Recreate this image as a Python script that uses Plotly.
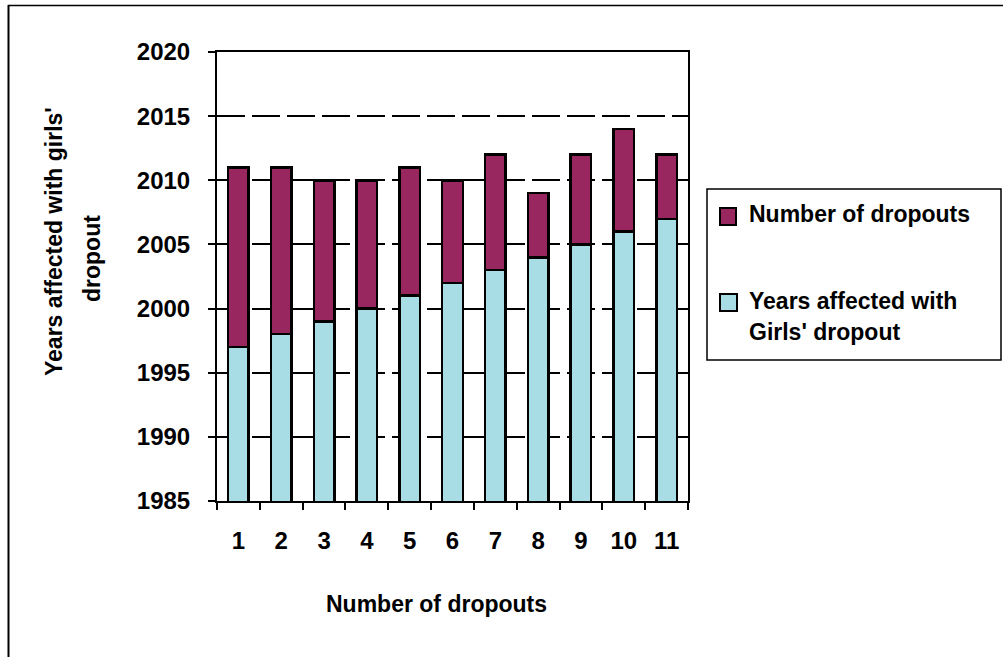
import plotly.graph_objects as go

# Chart data
categories = ["1", "2", "3", "4", "5", "6", "7", "8", "9", "10", "11"]
years_affected = [1997, 1998, 1999, 2000, 2001, 2002, 2003, 2004, 2005, 2006, 2007]
num_dropouts = [14, 13, 11, 10, 10, 8, 9, 5, 7, 8, 5]
y_ticks = [1985, 1990, 1995, 2000, 2005, 2010, 2015, 2020]

BLUE = "#a9dde6"
MAROON = "#98275f"
FONT = "Liberation Sans, Arial, sans-serif"

W, H = 1003, 657
L, R, T, B = 217, 315, 52, 156
PW, PH = W - L - R, H - T - B


def px_x(px):
    return (px - L) / PW


def px_y(py):
    return (H - B - py) / PH


fig = go.Figure()
fig.add_trace(go.Bar(
    x=categories, y=years_affected, name="Years affected with<br>Girls' dropout",
    marker=dict(color=BLUE, line=dict(color="black", width=2.5)),
))
fig.add_trace(go.Bar(
    x=categories, y=num_dropouts, name="Number of dropouts",
    marker=dict(color=MAROON, line=dict(color="black", width=2.5)),
))

shapes = [
    # outer chart frame (left and top edges)
    dict(type="line", xref="paper", yref="paper", x0=px_x(8.5), x1=px_x(8.5),
         y0=px_y(5), y1=px_y(657), line=dict(color="black", width=2)),
    dict(type="line", xref="paper", yref="paper", x0=px_x(8), x1=px_x(1003),
         y0=px_y(5.5), y1=px_y(5.5), line=dict(color="black", width=1.5)),
    # legend box
    dict(type="rect", xref="paper", yref="paper", x0=px_x(707), x1=px_x(1001),
         y0=px_y(189), y1=px_y(360), line=dict(color="black", width=1.5),
         fillcolor="white", layer="below"),
    # legend swatches
    dict(type="rect", xref="paper", yref="paper", x0=px_x(720), x1=px_x(736),
         y0=px_y(208), y1=px_y(225), line=dict(color="black", width=2),
         fillcolor=MAROON),
    dict(type="rect", xref="paper", yref="paper", x0=px_x(720), x1=px_x(737),
         y0=px_y(294), y1=px_y(311), line=dict(color="black", width=2),
         fillcolor=BLUE),
]

legend_font = dict(family=FONT, size=23, color="black", weight="bold")
title_font = dict(family=FONT, size=23, color="black", weight="bold")

annotations = [
    dict(text="Number of dropouts", xref="paper", yref="paper", x=px_x(747),
         y=px_y(214), xanchor="left", yanchor="middle", showarrow=False,
         font=legend_font),
    dict(text="Years affected with", xref="paper", yref="paper", x=px_x(747),
         y=px_y(301), xanchor="left", yanchor="middle", showarrow=False,
         font=legend_font),
    dict(text="Girls' dropout", xref="paper", yref="paper", x=px_x(747),
         y=px_y(332), xanchor="left", yanchor="middle", showarrow=False,
         font=legend_font),
    # y-axis title (two lines)
    dict(text="Years affected with girls'", xref="paper", yref="paper",
         x=px_x(54), y=px_y(242), xanchor="center", yanchor="middle",
         textangle=-90, showarrow=False, font=title_font),
    dict(text="dropout", xref="paper", yref="paper",
         x=px_x(92), y=px_y(259), xanchor="center", yanchor="middle",
         textangle=-90, showarrow=False, font=title_font),
    # x-axis title
    dict(text="Number of dropouts", xref="paper", yref="paper",
         x=px_x(436), y=px_y(604), xanchor="center", yanchor="middle",
         showarrow=False, font=title_font),
]

fig.update_layout(
    width=W, height=H,
    margin=dict(l=L, r=R, t=T, b=B, pad=0),
    barmode="stack",
    bargap=0.52,
    showlegend=False,
    plot_bgcolor="white",
    paper_bgcolor="white",
    shapes=shapes,
    annotations=annotations,
    font=dict(family=FONT, color="black"),
)

fig.update_xaxes(
    type="category",
    showline=True, linecolor="black", linewidth=2, mirror=True,
    ticks="outside", ticklen=7, tickwidth=1.5, tickcolor="black",
    tickson="boundaries",
    tickfont=dict(family=FONT, size=24, color="black", weight="bold"),
    ticklabelstandoff=17,
    showgrid=False,
)

fig.update_yaxes(
    range=[1985, 2020],
    tickvals=y_ticks,
    showline=True, linecolor="black", linewidth=2, mirror=True,
    ticks="outside", ticklen=7, tickwidth=1.5, tickcolor="black",
    tickfont=dict(family=FONT, size=24, color="black", weight="bold"),
    ticklabelstandoff=13,
    showgrid=True, gridcolor="black", gridwidth=1.5, griddash="28px,7px",
    zeroline=False,
)

fig.write_html("out.html")
